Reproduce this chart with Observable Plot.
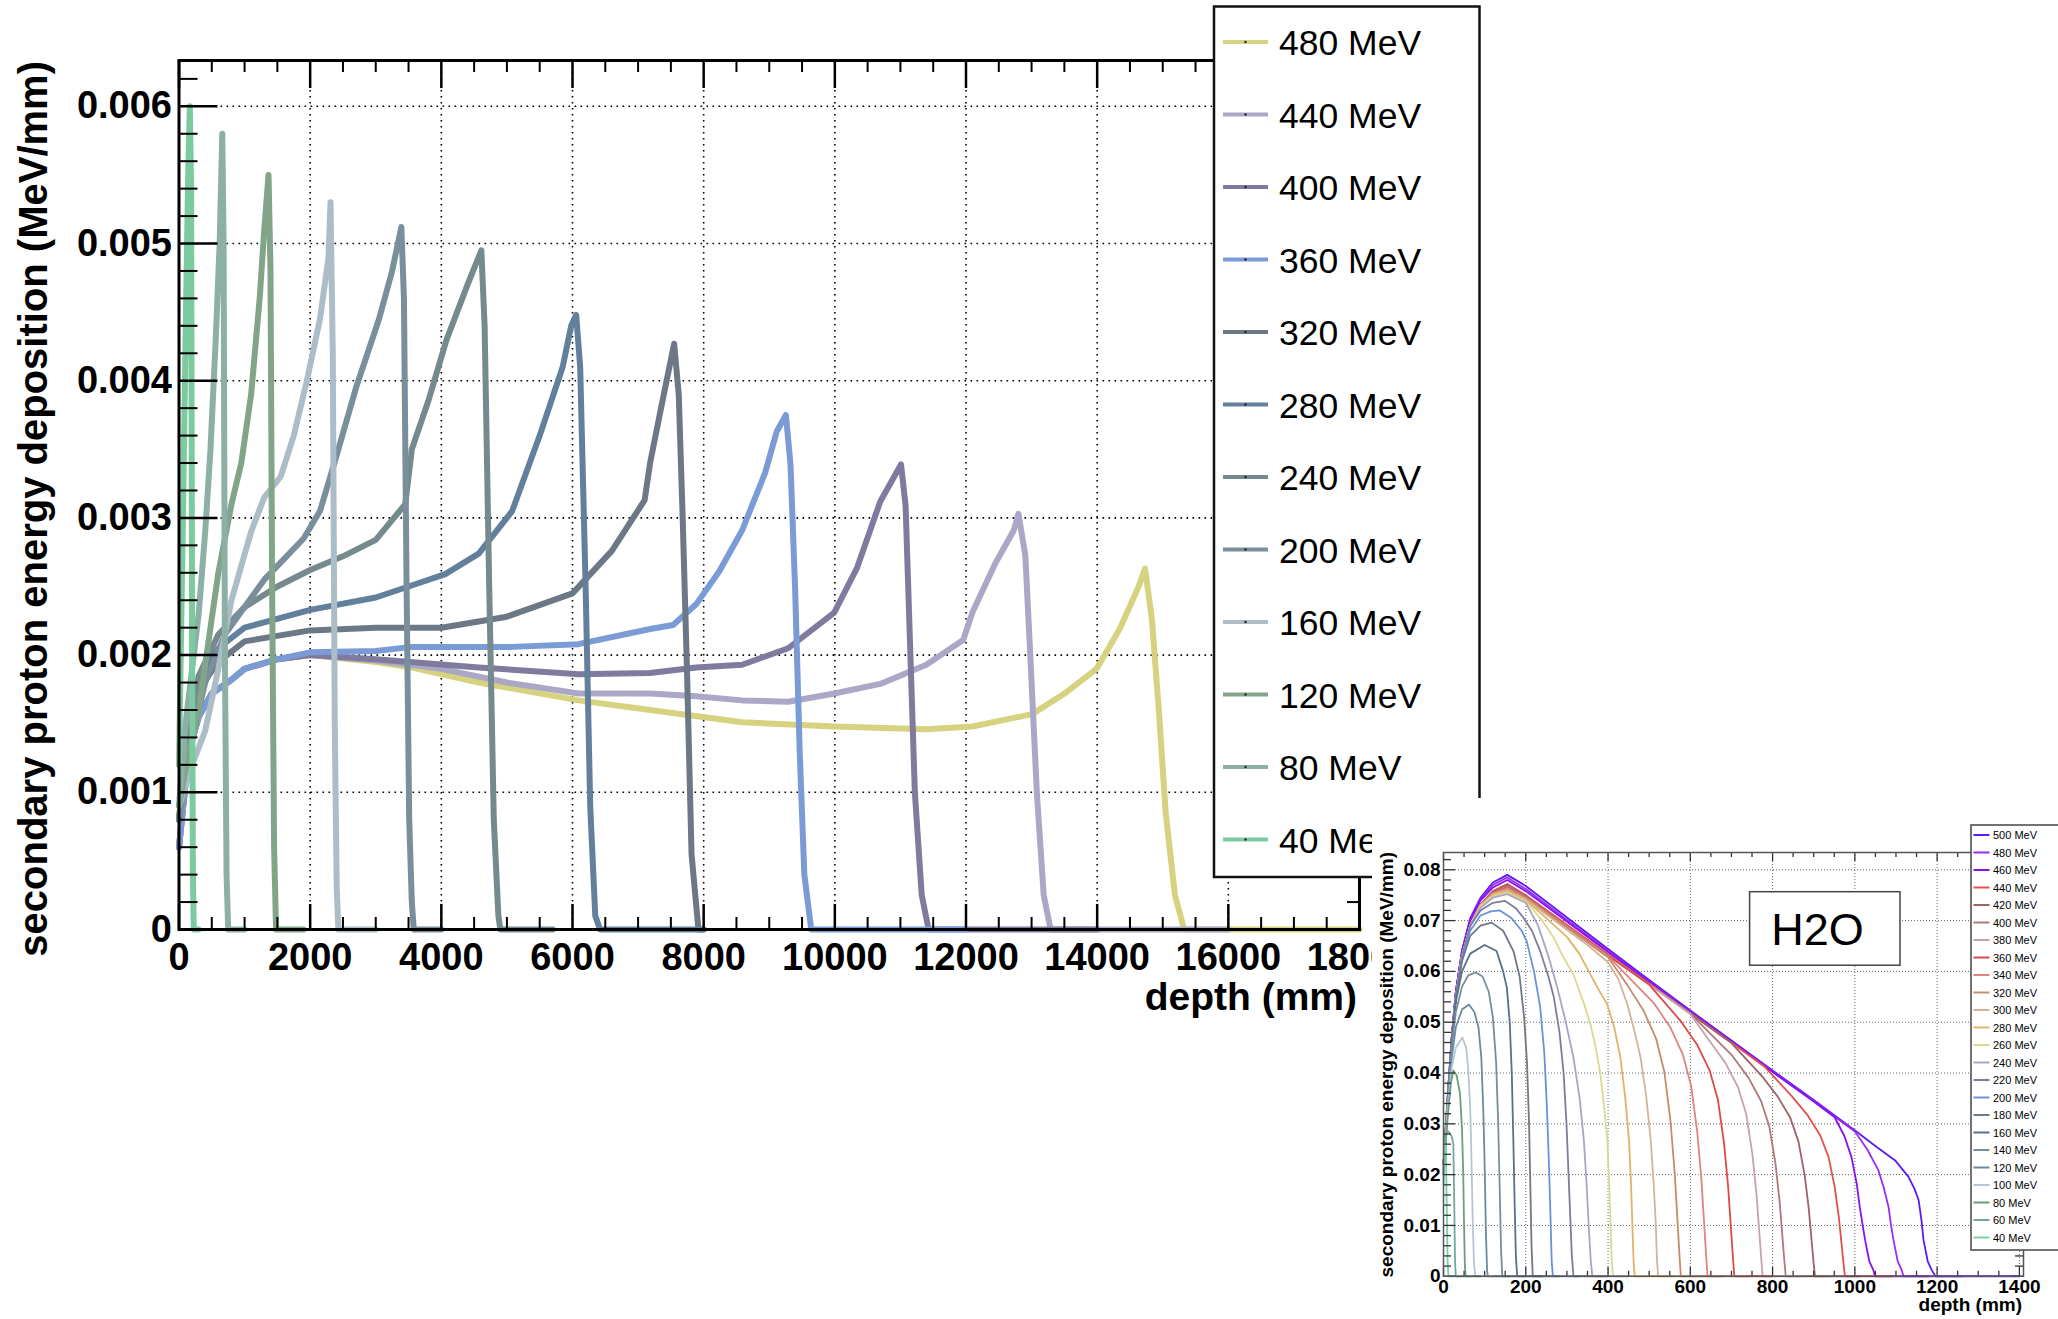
<!DOCTYPE html>
<html><head><meta charset="utf-8">
<script src="https://cdn.jsdelivr.net/npm/d3@7"></script>
<script src="https://cdn.jsdelivr.net/npm/@observablehq/plot@0.6"></script>
<style>
html,body{margin:0;padding:0;background:#fff;overflow:hidden;}
#wrap{position:relative;width:2058px;height:1319px;background:#fff;}
#main{position:absolute;left:0;top:0;}
#inset{position:absolute;left:1372px;top:798px;width:686px;height:521px;background:#fff;}
</style></head>
<body><div id="wrap"><div id="main"></div><div id="inset"></div></div>
<script>
// ---------------- MAIN CHART DATA (depth mm, MeV/mm) ----------------
const mainEnergies = [480,440,400,360,320,280,240,200,160,120,80,40];
const mainLabels = ["480 MeV","440 MeV","400 MeV","360 MeV","320 MeV","280 MeV","240 MeV","200 MeV","160 MeV","120 MeV","80 MeV","40 MeV"];
const mainColors = ["#d6d27f","#aba7c6","#7e7b9e","#7a9bd6","#6c7886","#62809c","#748a8e","#7a8f9c","#adbdc8","#82a58a","#8cb0a6","#7ccba0"];
const mainXTicks = [0,2000,4000,6000,8000,10000,12000,14000,16000,18000];
const mainYTicks = [0,0.001,0.002,0.003,0.004,0.005,0.006];
const mainXTitle = "depth (mm)";
const mainYTitle = "secondary proton energy deposition (MeV/mm)";

const main40 = [[0,0.0012],[60,0.0030],[100,0.0043],[140,0.0055],[165,0.0060],[185,0.0054],[200,0.0020],[212,0.0004],[225,0],[300,0]];
const main80 = [[0,0.0009],[100,0.0015],[200,0.0019],[300,0.0023],[400,0.0029],[480,0.0035],[560,0.0043],[620,0.0050],[660,0.0058],[680,0.0050],[700,0.0020],[725,0.0004],[750,0],[1000,0]];
const main120 = [[0,0.0009],[150,0.0013],[300,0.0016],[450,0.0021],[600,0.0026],[800,0.0031],[950,0.0034],[1100,0.0039],[1230,0.0046],[1300,0.0051],[1365,0.0055],[1395,0.0048],[1420,0.0025],[1450,0.0006],[1480,0],[1900,0]];
const main160 = [[0,0.0009],[200,0.0012],[400,0.00145],[600,0.0019],[800,0.0024],[1100,0.0029],[1300,0.00315],[1550,0.0033],[1750,0.0036],[1950,0.0040],[2150,0.00445],[2280,0.0049],[2310,0.0053],[2345,0.0042],[2375,0.0015],[2405,0.0003],[2430,0],[3000,0]];
const main200 = [[0,0.0008],[200,0.0014],[400,0.0018],[700,0.00215],[1000,0.00235],[1300,0.00255],[1600,0.0027],[1900,0.00285],[2150,0.00305],[2400,0.00345],[2700,0.00395],[3050,0.00445],[3250,0.0048],[3390,0.00512],[3430,0.0046],[3470,0.0025],[3510,0.0008],[3550,0.0002],[3580,0],[4000,0]];
const main240 = [[0,0.0008],[150,0.0015],[300,0.00185],[600,0.00215],[1000,0.00235],[1500,0.0025],[2000,0.00262],[2500,0.00272],[3000,0.00284],[3450,0.0031],[3550,0.0035],[3800,0.00385],[4080,0.0043],[4400,0.0047],[4610,0.00495],[4660,0.0044],[4730,0.0025],[4800,0.0008],[4870,0.0001],[4900,0],[5700,0]];
const main280 = [[0,0.0008],[150,0.0015],[300,0.0018],[600,0.00205],[1000,0.0022],[2000,0.00233],[3000,0.00242],[3500,0.0025],[4060,0.00259],[4570,0.00274],[5080,0.00305],[5500,0.0036],[5850,0.0041],[5980,0.0044],[6056,0.00448],[6117,0.0041],[6200,0.0025],[6270,0.0009],[6347,0.0001],[6420,0],[8000,0]];
const main320 = [[0,0.0008],[150,0.0015],[300,0.00175],[600,0.00195],[1000,0.0021],[2000,0.00218],[3000,0.0022],[4000,0.0022],[5000,0.00228],[6000,0.00245],[6600,0.00276],[7100,0.00313],[7183,0.0034],[7350,0.0038],[7550,0.00427],[7620,0.0039],[7680,0.0030],[7745,0.0019],[7815,0.00055],[7920,0],[8000,0]];
const main360 = [[0,0.0006],[150,0.0013],[300,0.00155],[500,0.00172],[800,0.00182],[1000,0.0019],[1500,0.00197],[2000,0.00202],[3000,0.00203],[3550,0.00206],[5080,0.00206],[6090,0.00208],[7183,0.00219],[7534,0.00222],[7885,0.00237],[8236,0.00261],[8587,0.00291],[8938,0.00333],[9114,0.00363],[9254,0.00375],[9324,0.00339],[9394,0.00249],[9464,0.0013],[9535,0.0004],[9640,0],[12000,0]];
const main400 = [[0,0.0006],[150,0.0013],[300,0.00155],[500,0.00172],[800,0.00182],[1000,0.0019],[1500,0.00197],[2000,0.002],[3000,0.00197],[4570,0.00191],[6094,0.00186],[7183,0.00187],[7885,0.00191],[8587,0.00193],[9289,0.00205],[9991,0.00231],[10342,0.00264],[10693,0.00312],[10904,0.0033],[11009,0.00339],[11079,0.00309],[11149,0.00205],[11220,0.001],[11325,0.00025],[11430,0],[14000,0]];
const main440 = [[0,0.0006],[150,0.0013],[300,0.00155],[500,0.00172],[800,0.00182],[1000,0.0019],[1500,0.00197],[2000,0.002],[3000,0.00196],[4000,0.0019],[5000,0.0018],[6094,0.00172],[7183,0.00172],[7885,0.0017],[8587,0.00167],[9289,0.00166],[9991,0.00172],[10693,0.00179],[11395,0.00193],[11957,0.00211],[12097,0.00231],[12448,0.00267],[12729,0.00291],[12799,0.00303],[12904,0.00273],[12975,0.00205],[13080,0.001],[13185,0.00025],[13290,0],[16000,0]];
const main480 = [[0,0.0006],[150,0.0013],[300,0.00155],[500,0.00172],[800,0.00182],[1000,0.0019],[1500,0.00197],[2000,0.002],[3000,0.00195],[3555,0.00191],[4570,0.0018],[6094,0.00167],[7183,0.0016],[8587,0.00151],[9991,0.00148],[11395,0.00146],[12097,0.00148],[13010,0.00157],[13501,0.00172],[13992,0.0019],[14343,0.00219],[14624,0.00249],[14730,0.00263],[14835,0.00226],[14940,0.0016],[15045,0.00085],[15186,0.00025],[15326,0],[18000,0]];

// ---------------- INSET (H2O) DATA ----------------
const insEnergies = [500,480,460,440,420,400,380,360,340,320,300,280,260,240,220,200,180,160,140,120,100,80,60,40];
const insLabels = ["500 MeV","480 MeV","460 MeV","440 MeV","420 MeV","400 MeV","380 MeV","360 MeV","340 MeV","320 MeV","300 MeV","280 MeV","260 MeV","240 MeV","220 MeV","200 MeV","180 MeV","160 MeV","140 MeV","120 MeV","100 MeV","80 MeV","60 MeV","40 MeV"];
const insColors = ["#5b1bf5","#9a2cf5","#8a10f0","#e0504c","#9c6266","#b0787a","#c8a2aa","#dd4848","#e0847c","#c48c6c","#d4b496","#e2b268","#dcd890","#a8a4c6","#7e7c9c","#6a92d8","#6e7a86","#56708c","#7a8e9a","#6a8aa0","#b4c6d4","#6a9e7c","#72a89c","#7ad0a2"];
const insXTicks = [0,200,400,600,800,1000,1200,1400];
const insYTicks = [0,0.01,0.02,0.03,0.04,0.05,0.06,0.07,0.08];
const insBoxLabel = "H2O";

const ins500 = [[0,0.022],[10,0.035],[20,0.047],[30,0.056],[45,0.064],[65,0.0705],[90,0.0745],[120,0.0775],[155,0.079],[200,0.0768],[300,0.0706],[400,0.0644],[500,0.0583],[600,0.0523],[700,0.0464],[800,0.0405],[900,0.0347],[1002,0.0286],[1049,0.0257],[1098,0.0228],[1130,0.0196],[1145,0.0172],[1155,0.015],[1162,0.011],[1167,0.0071],[1177,0.003],[1187,0.0012],[1196,0],[1400,0]];
const ins480 = [[0,0.022],[10,0.035],[20,0.047],[30,0.056],[45,0.064],[65,0.0702],[90,0.0742],[120,0.077],[155,0.0785],[200,0.0762],[300,0.0701],[400,0.064],[500,0.058],[600,0.052],[700,0.0461],[800,0.0403],[900,0.0345],[1000,0.0285],[1030,0.025],[1057,0.0209],[1070,0.0175],[1082,0.0136],[1088,0.01],[1094,0.0071],[1104,0.003],[1114,0.0012],[1118,0],[1260,0]];
const ins460 = [[0,0.022],[10,0.035],[20,0.047],[30,0.056],[45,0.064],[65,0.07],[90,0.074],[120,0.0765],[155,0.078],[200,0.0758],[300,0.0698],[400,0.0638],[500,0.0579],[600,0.052],[700,0.0461],[800,0.0402],[900,0.0344],[951,0.0313],[975,0.0275],[992,0.0234],[1005,0.018],[1012,0.0136],[1020,0.0095],[1025,0.0071],[1035,0.003],[1045,0.0012],[1049,0],[1180,0]];
const ins440 = [[0,0.022],[10,0.034],[20,0.046],[30,0.055],[45,0.063],[65,0.069],[90,0.0732],[120,0.0758],[155,0.0772],[200,0.075],[300,0.0692],[400,0.0634],[500,0.0576],[600,0.0518],[700,0.046],[780,0.0413],[846,0.0355],[886,0.0316],[916,0.0277],[936,0.0235],[951,0.0176],[961,0.0117],[968,0.0061],[973,0.0021],[976,0],[1090,0]];
const ins420 = [[0,0.022],[10,0.034],[20,0.046],[30,0.055],[45,0.063],[65,0.069],[90,0.0731],[120,0.0756],[155,0.077],[200,0.0748],[300,0.069],[400,0.0632],[500,0.0575],[600,0.0517],[700,0.0459],[773,0.0395],[813,0.0353],[843,0.0312],[863,0.0265],[878,0.0199],[888,0.0133],[895,0.0069],[900,0.0024],[903,0],[1010,0]];
const ins400 = [[0,0.022],[10,0.034],[20,0.046],[30,0.055],[45,0.063],[65,0.069],[90,0.073],[120,0.0755],[155,0.0768],[200,0.0747],[300,0.069],[400,0.0632],[500,0.0575],[600,0.0517],[702,0.0434],[742,0.039],[772,0.0345],[792,0.0295],[807,0.0222],[817,0.0148],[824,0.0077],[829,0.0027],[832,0],[940,0]];
const ins380 = [[0,0.022],[10,0.034],[20,0.046],[30,0.055],[45,0.063],[65,0.069],[90,0.073],[120,0.0754],[155,0.0766],[200,0.0746],[300,0.0689],[400,0.0631],[500,0.0574],[600,0.0516],[646,0.0464],[686,0.0419],[716,0.0372],[736,0.0319],[751,0.024],[761,0.016],[768,0.0084],[773,0.0029],[776,0],[880,0]];
const ins360 = [[0,0.022],[10,0.034],[20,0.046],[30,0.055],[45,0.063],[65,0.069],[90,0.073],[120,0.0754],[155,0.0766],[200,0.0746],[300,0.0689],[400,0.0631],[500,0.0574],[577,0.0502],[617,0.0455],[647,0.0405],[667,0.0348],[682,0.0262],[692,0.0176],[699,0.0092],[704,0.0032],[707,0],[800,0]];
const ins340 = [[0,0.022],[10,0.034],[20,0.046],[30,0.055],[45,0.063],[65,0.069],[90,0.073],[120,0.0753],[155,0.0764],[200,0.0745],[300,0.0688],[400,0.063],[512,0.0537],[552,0.0489],[582,0.0436],[602,0.0375],[617,0.0283],[627,0.019],[634,0.0099],[639,0.0034],[642,0],[740,0]];
const ins320 = [[0,0.022],[10,0.034],[20,0.046],[30,0.055],[45,0.063],[65,0.069],[90,0.073],[120,0.0752],[155,0.0762],[200,0.0744],[300,0.0686],[400,0.0628],[447,0.0573],[487,0.0522],[517,0.0467],[537,0.0402],[552,0.0304],[562,0.0204],[569,0.0107],[574,0.0037],[577,0],[680,0]];
const ins300 = [[0,0.022],[10,0.034],[20,0.046],[30,0.055],[45,0.063],[65,0.069],[90,0.073],[120,0.0752],[155,0.076],[200,0.0742],[250,0.0712],[300,0.0682],[350,0.0652],[400,0.0618],[425,0.0585],[447,0.0535],[465,0.048],[479,0.0431],[492,0.036],[504,0.0267],[511,0.018],[516,0.0104],[519,0.003],[522,0],[620,0]];
const ins280 = [[0,0.022],[10,0.034],[20,0.046],[30,0.055],[45,0.063],[65,0.069],[90,0.073],[120,0.075],[155,0.0758],[200,0.074],[250,0.0705],[300,0.0668],[330,0.0635],[357,0.0594],[380,0.056],[398,0.0535],[415,0.049],[430,0.0431],[442,0.035],[451,0.0267],[456,0.018],[459,0.0104],[462,0.003],[465,0],[560,0]];
const ins260 = [[0,0.022],[10,0.034],[20,0.046],[30,0.055],[45,0.063],[65,0.069],[90,0.0728],[120,0.0748],[155,0.0755],[200,0.0738],[240,0.07],[268,0.0666],[290,0.063],[316,0.0594],[340,0.054],[357,0.0497],[370,0.045],[381,0.04],[391,0.033],[398,0.027],[403,0.018],[406,0.01],[409,0.003],[412,0],[500,0]];
const ins240 = [[0,0.022],[10,0.034],[20,0.046],[30,0.055],[45,0.063],[65,0.069],[90,0.0725],[120,0.0745],[155,0.0752],[200,0.0735],[230,0.069],[255,0.063],[276,0.057],[296,0.0505],[316,0.043],[331,0.035],[341,0.027],[348,0.018],[353,0.01],[358,0.003],[362,0],[450,0]];
const ins220 = [[0,0.022],[10,0.034],[20,0.046],[30,0.055],[45,0.063],[65,0.069],[90,0.072],[120,0.0735],[149,0.0739],[175,0.0725],[194,0.0706],[215,0.068],[235,0.064],[255,0.059],[268,0.055],[282,0.048],[292,0.04],[299,0.03],[304,0.02],[308,0.012],[312,0.004],[316,0],[400,0]];
const ins200 = [[0,0.022],[10,0.034],[20,0.046],[30,0.055],[45,0.0625],[65,0.068],[90,0.071],[115,0.0718],[137,0.072],[165,0.0705],[190,0.068],[202,0.066],[220,0.06],[235,0.053],[245,0.044],[251,0.034],[256,0.023],[260,0.012],[263,0.003],[266,0],[330,0]];
const ins180 = [[0,0.022],[10,0.034],[20,0.046],[30,0.055],[45,0.062],[65,0.067],[90,0.069],[117,0.0696],[145,0.068],[170,0.064],[185,0.059],[196,0.051],[203,0.042],[208,0.03],[211,0.018],[214,0.006],[217,0],[280,0]];
const ins160 = [[0,0.021],[10,0.034],[20,0.046],[30,0.054],[45,0.06],[65,0.0635],[100,0.0652],[129,0.064],[145,0.06],[154,0.0568],[161,0.05],[166,0.04],[170,0.026],[173,0.014],[176,0.004],[179,0],[240,0]];
const ins140 = [[0,0.021],[10,0.034],[20,0.045],[30,0.052],[45,0.057],[60,0.0592],[79,0.0598],[95,0.059],[110,0.056],[120,0.051],[128,0.042],[133,0.03],[137,0.016],[140,0.005],[143,0],[200,0]];
const ins120 = [[0,0.02],[10,0.033],[20,0.043],[30,0.049],[45,0.0525],[62,0.0535],[75,0.052],[85,0.049],[92,0.043],[97,0.032],[100,0.022],[103,0.009],[106,0.001],[108,0],[160,0]];
const ins100 = [[0,0.02],[10,0.033],[20,0.041],[30,0.045],[46,0.047],[55,0.045],[60,0.041],[65,0.033],[68,0.023],[71,0.011],[74,0.003],[77,0],[120,0]];
const ins80 = [[0,0.02],[10,0.031],[18,0.038],[24,0.0405],[32,0.0395],[40,0.036],[45,0.029],[48,0.02],[50,0.01],[52,0.002],[54,0],[90,0]];
const ins60 = [[0,0.02],[5,0.028],[12,0.0285],[20,0.0275],[24,0.026],[26,0.015],[28,0.003],[30,0],[60,0]];
const ins40 = [[0,0.018],[3,0.026],[6,0.025],[8,0.013],[10,0.003],[12,0],[40,0]];

// ---------------- build tables ----------------
const mainSeries = {480:main480,440:main440,400:main400,360:main360,320:main320,280:main280,240:main240,200:main200,160:main160,120:main120,80:main80,40:main40};
const mainRows = mainEnergies.flatMap(e => mainSeries[e].map(([d,v]) => ({energy:e, depth:d, value:v})));
const insSeries = {500:ins500,480:ins480,460:ins460,440:ins440,420:ins420,400:ins400,380:ins380,360:ins360,340:ins340,320:ins320,300:ins300,280:ins280,260:ins260,240:ins240,220:ins220,200:ins200,180:ins180,160:ins160,140:ins140,120:ins120,100:ins100,80:ins80,60:ins60,40:ins40};
const insRows = insEnergies.flatMap(e => insSeries[e].map(([d,v]) => ({energy:e, depth:d, value:v})));

const FONT = '"Liberation Sans", Arial, Helvetica, sans-serif';

// ---------------- main plot ----------------
const W = 2058, H = 1319;
const L = 178.5, R = 1359, T = 60, B = 929;
const FW = R - L, FH = B - T;
const mainXMinor = d3.range(500, 18000, 500).filter(d => d % 2000 !== 0);
const mainYMinor = d3.range(1, 32).map(i => i * 0.0002).filter(d => Math.abs(d*1000 - Math.round(d*1000)) > 1e-6);
const tk = {stroke:"#000", strokeWidth:2.5};
const tkm = {stroke:"#000", strokeWidth:2};

const mainPlot = Plot.plot({
  width: W, height: H,
  marginLeft: L, marginRight: W - R, marginTop: T, marginBottom: H - B,
  style: {background:"#fff", fontFamily: FONT},
  x: {domain:[0,18000]},
  y: {domain:[0,0.006334]},
  color: {type:"ordinal", domain: mainEnergies, range: mainColors},
  marks: [
    Plot.gridX(mainXTicks.filter(d => d > 0 && d < 18000), {stroke:"#000", strokeOpacity:1, strokeWidth:1.6, strokeDasharray:"1.6,4.4"}),
    Plot.gridY(mainYTicks.filter(d => d > 0), {stroke:"#000", strokeOpacity:1, strokeWidth:1.6, strokeDasharray:"1.6,4.4"}),
    Plot.line(mainRows, {x:"depth", y:"value", z:"energy", stroke:"energy", strokeWidth:6, strokeLinejoin:"round"}),
    Plot.tickY(mainYTicks, {y:d=>d, insetRight: FW - 39, ...tk}),
    Plot.tickY(mainYMinor, {y:d=>d, insetRight: FW - 19, ...tkm}),
    Plot.tickY(mainYTicks, {y:d=>d, insetLeft: FW - 25, ...tk}),
    Plot.tickY(mainYMinor, {y:d=>d, insetLeft: FW - 12, ...tkm}),
    Plot.tickX(mainXTicks, {x:d=>d, insetTop: FH - 25, ...tk}),
    Plot.tickX(mainXMinor, {x:d=>d, insetTop: FH - 12, ...tkm}),
    Plot.tickX(mainXTicks, {x:d=>d, insetBottom: FH - 28, ...tk}),
    Plot.tickX(mainXMinor, {x:d=>d, insetBottom: FH - 12, ...tkm}),
    Plot.frame({stroke:"#000", strokeWidth:3}),
    Plot.axisX({ticks: mainXTicks, tickSize:0, tickPadding:14, fontSize:38, fontWeight:"bold", label:null, tickFormat: d => String(d)}),
    Plot.axisY({ticks: mainYTicks, tickSize:0, tickPadding:7, fontSize:38, fontWeight:"bold", label:null, tickFormat: d => d === 0 ? "0" : d.toFixed(3)})
  ]
});
document.getElementById("main").appendChild(mainPlot);
const ms = d3.select(mainPlot);
const cMain = mainPlot.scale("color");
ms.append("text").attr("transform","translate(47,61) rotate(-90)").attr("text-anchor","end")
  .attr("font-size",40).attr("font-weight","bold").attr("fill","#000").text(mainYTitle);
ms.append("text").attr("x",1357).attr("y",1010).attr("text-anchor","end")
  .attr("font-size",39).attr("font-weight","bold").attr("fill","#000").text(mainXTitle);
// legend
const lg = ms.append("g").attr("text-anchor","start");
lg.append("rect").attr("x",1214).attr("y",6.5).attr("width",265.5).attr("height",870.5)
  .attr("fill","#fff").attr("stroke","#111").attr("stroke-width",2.5);
mainEnergies.forEach((e,i) => {
  const y = 42 + i * 72.5;
  lg.append("line").attr("x1",1223).attr("x2",1268).attr("y1",y).attr("y2",y)
    .attr("stroke", cMain.apply(e)).attr("stroke-width",4);
  lg.append("circle").attr("cx",1245.5).attr("cy",y).attr("r",1.2).attr("fill","#222");
  lg.append("text").attr("x",1279).attr("y",y + 13).attr("text-anchor","start")
    .attr("font-size",35.5).attr("fill","#000").text(mainLabels[i]);
});

// ---------------- inset plot ----------------
const IW = 686, IH = 521;
const iL = 71, iR = 651, iT = 54, iB = 477.75;
const IFW = iR - iL, IFH = iB - iT;
const insXMinor = d3.range(50, 1410, 50).filter(d => d % 200 !== 0);
const insYMinor = d3.range(1, 42).map(i => i * 0.002).filter(d => Math.abs(d*100 - Math.round(d*100)) > 1e-6);
const itk = {stroke:"#333", strokeWidth:1.3};
const insetPlot = Plot.plot({
  width: IW, height: IH,
  marginLeft: iL, marginRight: IW - iR, marginTop: iT, marginBottom: IH - iB,
  style: {background:"#fff", fontFamily: FONT},
  x: {domain:[0,1410]},
  y: {domain:[0,0.0834]},
  color: {type:"ordinal", domain: insEnergies, range: insColors},
  marks: [
    Plot.gridX(insXTicks.filter(d => d > 0), {stroke:"#666", strokeOpacity:1, strokeWidth:1, strokeDasharray:"1,2"}),
    Plot.gridY(insYTicks.filter(d => d > 0), {stroke:"#666", strokeOpacity:1, strokeWidth:1, strokeDasharray:"1,2"}),
    Plot.line(insRows, {x:"depth", y:"value", z:"energy", stroke:"energy", strokeWidth:1.8, strokeLinejoin:"round"}),
    Plot.tickY(insYTicks, {y:d=>d, insetRight: IFW - 12, ...itk}),
    Plot.tickY(insYMinor, {y:d=>d, insetRight: IFW - 8, ...itk}),
    Plot.tickY(insYTicks, {y:d=>d, insetLeft: IFW - 12, ...itk}),
    Plot.tickY(insYMinor, {y:d=>d, insetLeft: IFW - 8, ...itk}),
    Plot.tickX(insXTicks, {x:d=>d, insetTop: IFH - 9, ...itk}),
    Plot.tickX(insXMinor, {x:d=>d, insetTop: IFH - 5, ...itk}),
    Plot.tickX(insXTicks, {x:d=>d, insetBottom: IFH - 9, ...itk}),
    Plot.tickX(insXMinor, {x:d=>d, insetBottom: IFH - 5, ...itk}),
    Plot.frame({stroke:"#555", strokeWidth:1.5}),
    Plot.axisX({ticks: insXTicks, tickSize:0, tickPadding:3, fontSize:19, fontWeight:"bold", label:null, tickFormat: d => String(d)}),
    Plot.axisY({ticks: insYTicks, tickSize:0, tickPadding:3, fontSize:19, fontWeight:"bold", label:null, tickFormat: d => d === 0 ? "0" : d.toFixed(2)})
  ]
});
document.getElementById("inset").appendChild(insetPlot);
const is = d3.select(insetPlot);
const cIns = insetPlot.scale("color");
is.append("text").attr("transform","translate(20.5,54) rotate(-90)").attr("text-anchor","end")
  .attr("font-size",19).attr("font-weight","bold").attr("fill","#000").text(mainYTitle);
is.append("text").attr("x",650).attr("y",513).attr("text-anchor","end")
  .attr("font-size",19).attr("font-weight","bold").attr("fill","#000").text(mainXTitle);
// H2O box
is.append("rect").attr("x",377.6).attr("y",93.7).attr("width",150.4).attr("height",73.5)
  .attr("fill","#fff").attr("stroke","#444").attr("stroke-width",1.5);
is.append("text").attr("x",445.5).attr("y",146.5).attr("text-anchor","middle")
  .attr("font-size",45).attr("fill","#000").text(insBoxLabel);
// inset legend
const il = is.append("g").attr("text-anchor","start");
il.append("rect").attr("x",599).attr("y",27).attr("width",100).attr("height",425)
  .attr("fill","#fff").attr("stroke","#444").attr("stroke-width",1.5);
insEnergies.forEach((e,i) => {
  const y = 37 + i * 17.5;
  il.append("line").attr("x1",601.5).attr("x2",617.5).attr("y1",y).attr("y2",y)
    .attr("stroke", cIns.apply(e)).attr("stroke-width",2);
  il.append("text").attr("x",621).attr("y",y + 4).attr("text-anchor","start")
    .attr("font-size",11).attr("fill","#000").text(insLabels[i]);
});
</script></body></html>
